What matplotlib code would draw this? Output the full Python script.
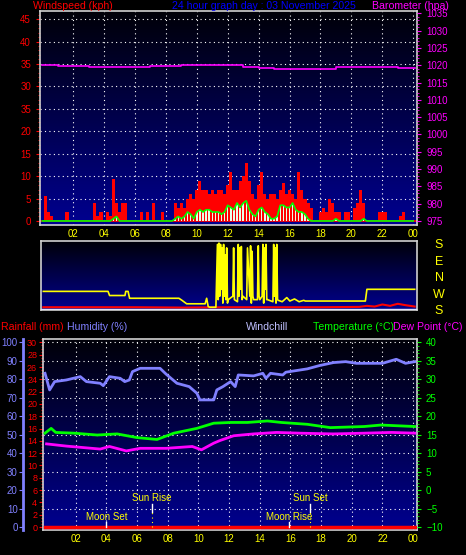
import numpy as np
import matplotlib
matplotlib.use("Agg")
import matplotlib.pyplot as plt
from matplotlib.colors import LinearSegmentedColormap
import matplotlib.transforms as mtrans

plt.rcParams['font.family'] = ['Liberation Sans', 'DejaVu Sans']

# ---------------- data ----------------
wind_hours = [round(0.2 * i, 1) for i in range(121)]
gust_kph = [0, 5.5, 2, 1, 0, 0, 0, 0, 2, 0,
            0, 0, 0, 0, 0, 0, 0, 4, 1, 2,
            0, 2, 1, 9.4, 4, 2, 4, 4, 0, 0,
            0, 0, 2, 0, 2, 0, 4, 0, 0, 2,
            0, 0, 0, 4, 3, 4, 3, 5, 6, 5,
            7, 9, 7, 7, 6, 7, 6, 7, 7, 6,
            8, 11, 7, 7, 9, 10, 13, 9, 6, 5,
            8, 11, 6, 5, 6, 6, 5, 7, 8.5, 6,
            7, 6, 5, 11, 7, 5, 4, 3, 0, 0,
            2, 3, 2, 5, 4, 2, 2, 0, 2, 2,
            0, 3, 4, 7, 4, 0, 0, 0, 0, 2,
            2, 2, 0, 0, 0, 0, 1, 2, 0, 0, 0]
avg_kph = [0, 0, 0, 0, 0, 0, 0, 0, 0, 0,
           0, 0, 0, 0, 0, 0, 0, 0, 0, 0,
           0, 0, 0, 0.5, 1, 0, 0, 0, 0, 0,
           0, 0, 0, 0, 0, 0, 0, 0, 0, 0,
           0, 0, 0, 0.5, 1, 0.5, 1, 2, 1.5, 0.5,
           2, 2.5, 2, 2.5, 2.5, 2, 2, 2, 1.5, 2,
           3.5, 3, 2.5, 4, 3, 4, 4.5, 2.5, 1.5, 1,
           2.5, 3, 2, 1.5, 0.5, 0.5, 1, 3.5, 3.5, 3,
           3, 4, 2.5, 2, 2, 1.5, 0.5, 0, 0, 0,
           0, 0, 0, 0, 0, 0.5, 0, 0, 0, 0,
           0, 0, 0, 0, 0.5, 0, 0, 0, 0, 0,
           0, 0, 0, 0, 0, 0, 0, 0, 0, 0, 0]

baro_hours = [0, 1, 1, 3, 3, 5.5, 5.5, 7, 7, 9, 9, 13, 13, 14, 14, 15, 15, 17, 17, 19, 19, 23, 23, 24.1]
baro_hpa = [1020.0, 1020.0, 1019.8, 1019.8, 1019.4, 1019.4, 1019.6, 1019.6, 1019.8, 1019.8,
            1020.0, 1020.0, 1019.6, 1019.6, 1019.2, 1019.2, 1018.8, 1018.8, 1019.0, 1019.0,
            1019.4, 1019.4, 1019.3, 1019.3]

dir_hours = [0, 4.2, 4.3, 5.3, 5.35, 5.5, 5.6, 8.8, 9.0, 9.3, 10.5, 10.6, 10.7, 10.8, 11.2,
             11.3, 11.35, 11.4, 11.45, 11.5, 11.55, 11.6, 11.65, 11.7, 11.75, 11.8, 11.85, 11.9, 11.95, 12.0,
             12.3, 12.35, 12.4, 12.6, 12.65, 12.7, 12.75, 12.8, 12.85, 12.9, 12.95,
             13.2, 13.25, 13.4, 13.45, 13.5, 13.55, 13.6, 13.65,
             13.9, 13.95, 14.0, 14.05, 14.2, 14.25, 14.3, 14.35, 14.4, 14.45, 14.5, 14.55,
             14.9, 14.95, 15.0, 15.05, 15.1, 15.15, 15.2, 15.25,
             15.5, 15.8, 16.0, 16.3, 16.6, 16.9, 17.0, 20.9, 21.0, 24.1]
dir_frac = [0.27, 0.27, 0.21, 0.21, 0.27, 0.27, 0.17, 0.17, 0.14, 0.09, 0.09, 0.17, 0.05, 0.04, 0.04,
            0.95, 0.15, 0.97, 0.2, 0.95, 0.3, 0.9, 0.1, 0.95, 0.2, 0.8, 0.15, 0.9, 0.1, 0.15,
            0.2, 0.9, 0.15, 0.12, 0.95, 0.2, 0.9, 0.3, 0.92, 0.15, 0.2,
            0.15, 0.9, 0.2, 0.93, 0.1, 0.85, 0.2, 0.15,
            0.15, 0.93, 0.2, 0.15, 0.2, 0.95, 0.1, 0.9, 0.3, 0.95, 0.15, 0.15,
            0.12, 0.95, 0.2, 0.9, 0.1, 0.95, 0.15, 0.14,
            0.12, 0.18, 0.13, 0.16, 0.12, 0.14, 0.13, 0.13, 0.3, 0.3]

rain_noise_h = [0, 3, 6, 9, 12, 15, 18, 20.5, 21, 21.5, 22, 22.5, 23, 23.5, 24.1]
rain_noise_f = [0.04, 0.04, 0.04, 0.035, 0.04, 0.04, 0.04, 0.045, 0.06, 0.05, 0.08, 0.06, 0.09, 0.07, 0.05]

hum_hours = [0, 0.3, 0.63, 1.4, 2.3, 2.7, 3.6, 3.8, 4.2, 4.9, 5.2, 5.5, 5.7, 6.2, 7.5, 7.9, 8.6, 9.4, 9.9,
             10.1, 11.0, 11.2, 11.6, 12.1, 12.4, 12.6, 13.6, 14.2, 14.4, 14.7, 15.5, 15.7, 17.1, 17.9,
             18.8, 19.6, 20.3, 22.0, 22.9, 23.5, 24.1]
humidity = [83.2, 74.2, 78.7, 79.6, 81.4, 78.7, 77.8, 76.5, 81.4, 80.5, 78.7, 79.6, 84.1, 85.9, 85.9,
            82.7, 77.8, 76.0, 72.4, 68.8, 68.8, 74.2, 76.0, 78.7, 76.0, 82.3, 81.8, 83.2, 80.5, 83.2,
            82.3, 83.8, 85.6, 87.4, 89.0, 89.5, 88.6, 88.6, 90.8, 88.6, 89.5]

temp_hours = [0, 0.4, 0.7, 1.9, 3.4, 4.7, 6.0, 7.3, 8.4, 9.9, 11.0, 12.1, 13.2, 14.5, 15.4, 17.1, 18.6,
              20.8, 21.9, 24.1]
temperature = [15.4, 16.7, 15.6, 15.4, 14.9, 15.2, 14.2, 13.7, 15.4, 16.7, 18.1, 18.3, 18.3, 18.7,
               18.3, 17.8, 16.9, 17.2, 17.6, 17.2]

dew_hours = [0.1, 1.4, 3.6, 4.2, 5.3, 6.2, 7.9, 9.6, 10.2, 11.0, 11.4, 12.3, 13.6, 15.1, 16.6, 18.8,
             20.8, 22.6, 24.1]
dewpoint = [12.5, 11.9, 11.1, 11.8, 10.6, 11.3, 11.3, 11.8, 10.9, 12.7, 13.4, 14.7, 15.2, 15.6, 15.4,
            15.2, 15.4, 15.6, 15.4]

rain_hours = [0, 24.1]
rainfall = [0, 0]

hour_ticks = [2, 4, 6, 8, 10, 12, 14, 16, 18, 20, 22, 24]
hour_labels = ["02", "04", "06", "08", "10", "12", "14", "16", "18", "20", "22", "00"]
wind_ticks = [0, 5, 10, 15, 20, 25, 30, 35, 40, 45]
wind_labels = ["0", "5", "10", "15", "20", "35", "30", "35", "40", "45"]

events = [("Moon Set", 4.0, "low"), ("Sun Rise", 6.96, "high"),
          ("Moon Rise", 15.9, "low"), ("Sun Set", 17.3, "high")]

# ---------------- style ----------------
W, H = 466, 555
RED = "#ff0000"; MAG = "#ff00ff"; YEL = "#ffff00"; GRN = "#00ff00"
LAV = "#8080ff"; BLU = "#0000ff"; SPINE = "#d0d0d0"
FS = 7
TFS = 7.6
XLIM = (-0.15, 24.25)
cmap = LinearSegmentedColormap.from_list("bg", ["#000090", "#000008"])

fig = plt.figure(figsize=(W / 100, H / 100), dpi=100, facecolor="black")

def axes_px(l, t, r, b):
    return fig.add_axes([l / W, (H - b) / H, (r - l) / W, (b - t) / H])

def background(ax):
    ax.set_facecolor("black")
    ax.imshow(np.linspace(0, 1, 256).reshape(-1, 1), cmap=cmap, origin="lower",
              extent=[0, 1, 0, 1], transform=ax.transAxes, aspect="auto", zorder=0)
    for s in ax.spines.values():
        s.set_color(SPINE); s.set_linewidth(1.2)

dots = (0, (1, 3))

# ---------------- top panel ----------------
ax1 = axes_px(40, 11, 417, 225)
background(ax1)
ax1.set_xlim(*XLIM)
ax1.set_ylim(-0.9, 46.8)
ax1.set_yticks(wind_ticks)
ax1.set_yticklabels(wind_labels)
ax1.set_yticks(np.arange(0, 47, 1), minor=True)
ax1.tick_params(axis="y", colors=RED, labelsize=FS, length=3, which="both")
ax1.tick_params(axis="y", which="minor", length=1.5)
ax1.set_xticks(hour_ticks)
ax1.set_xticklabels(hour_labels)
ax1.tick_params(axis="x", colors=YEL, labelsize=FS, length=0, pad=3)
for x in hour_ticks:
    ax1.axvline(x, color="white", ls=dots, lw=0.8, zorder=1)
for y in wind_ticks[1:]:
    ax1.axhline(y, color="white", ls=dots, lw=0.8, zorder=1)
ax1.axhline(0, color=RED, lw=1.2, zorder=2)
ax1.bar(wind_hours, gust_kph, width=0.2, color=RED, zorder=3, align="center")
ax1.bar(wind_hours, avg_kph, width=0.09, color="#e8ffe8", zorder=4)
ax1.plot(wind_hours, avg_kph, color=GRN, lw=1.2, zorder=5)

ax1b = ax1.twinx()
ax1b.set_ylim(973.8, 1035.7)
ax1b.set_yticks(np.arange(975, 1036, 5))
ax1b.set_yticks(np.arange(975, 1036, 1), minor=True)
ax1b.tick_params(axis="y", colors=MAG, labelsize=FS, length=3, which="both")
ax1b.tick_params(axis="y", which="minor", length=1.5)
for s in ax1b.spines.values():
    s.set_visible(False)
ax1b.plot(baro_hours, baro_hpa, color=MAG, lw=1.2, zorder=6)

fig.text(33 / W, 1 - 6 / H, "Windspeed (kph)", color=RED, fontsize=TFS, va="center")
fig.text(172 / W, 1 - 6 / H, "24 hour graph day : 03 November 2025", color=BLU, fontsize=TFS, va="center")
fig.text(372 / W, 1 - 6 / H, "Barometer (hpa)", color=MAG, fontsize=TFS, va="center")

# ---------------- middle panel ----------------
ax2 = axes_px(41, 241, 417, 310)
background(ax2)
ax2.set_xlim(*XLIM)
ax2.set_ylim(0, 1)
ax2.set_xticks([]); ax2.set_yticks([])
ax2.plot(rain_noise_h, rain_noise_f, color=RED, lw=1.5, zorder=3)
ax2.axhline(0.015, color="#e0e0ff", lw=1, zorder=3)
ax2.plot(dir_hours, dir_frac, color=YEL, lw=1.2, zorder=4)
for i, lab in enumerate(["S", "E", "N", "W", "S"]):
    fig.text(439 / W, 1 - (245 + 16.5 * i) / H, lab, color=YEL, fontsize=9, ha="center", va="center")

# ---------------- bottom panel ----------------
ax3 = axes_px(42.7, 339.3, 417, 530)
background(ax3)
ax3.set_xlim(*XLIM)
hlo, hhi = -1.6, 101.6
ax3.set_ylim(hlo * 0.3, hhi * 0.3)
ax3.set_yticks(np.arange(0, 31, 2))
ax3.set_yticks(np.arange(0, 31, 0.5), minor=True)
ax3.tick_params(axis="y", colors=RED, labelsize=FS - 0.5, length=3, which="both", pad=1)
ax3.tick_params(axis="y", which="minor", length=1.5)
ax3.set_xticks(hour_ticks)
ax3.set_xticklabels(hour_labels)
ax3.tick_params(axis="x", colors=YEL, labelsize=FS, length=0, pad=3)
for x in hour_ticks:
    ax3.axvline(x, color="white", ls=dots, lw=0.8, zorder=1)
for hv in range(10, 101, 10):
    ax3.axhline(hv * 0.3, color="white", ls=dots, lw=0.8, zorder=1)
ax3.plot(rain_hours, rainfall, color=RED, lw=2.5, zorder=3)

axh = ax3.twinx()
axh.set_ylim(hlo, hhi)
axh.yaxis.set_ticks_position("left")
axh.spines["left"].set_position(("outward", 14))
axh.spines["left"].set_visible(True)
axh.spines["left"].set_color(LAV)
axh.spines["left"].set_linewidth(2)
for k in ["right", "top", "bottom"]:
    axh.spines[k].set_visible(False)
axh.set_yticks(np.arange(0, 101, 10))
axh.tick_params(axis="y", colors=LAV, labelsize=FS, length=3, pad=1)
axh.plot(hum_hours, humidity, color=LAV, lw=2, zorder=4)

axt = ax3.twinx()
axt.set_ylim(-10 + hlo * 0.5, -10 + hhi * 0.5)
axt.set_yticks(np.arange(-10, 41, 5))
axt.set_yticks(np.arange(-10, 41, 1), minor=True)
axt.tick_params(axis="y", colors=GRN, labelsize=FS, length=3, which="both")
axt.tick_params(axis="y", which="minor", length=1.5)
for s in axt.spines.values():
    s.set_visible(False)
axt.plot(temp_hours, temperature, color=GRN, lw=2, zorder=5)
axt.plot(dew_hours, dewpoint, color=MAG, lw=2, zorder=5)

tr = mtrans.blended_transform_factory(ax3.transData, ax3.transAxes)
for name, hr, lvl in events:
    if lvl == "low":
        axt.plot([hr, hr], [0.016, 0.04], color="white", lw=1, transform=tr, zorder=6)
        axt.text(hr, 0.068, name, color=YEL, fontsize=FS, ha="center", va="center", transform=tr, zorder=6)
    else:
        axt.plot([hr, hr], [0.096, 0.136], color="white", lw=1, transform=tr, zorder=6)
        axt.plot([hr, hr], [0.016, 0.096], color=YEL, lw=0.8, ls=dots, transform=tr, zorder=6)
        axt.text(hr, 0.17, name, color=YEL, fontsize=FS, ha="center", va="center", transform=tr, zorder=6)

ty = 1 - 327 / H
fig.text(1 / W, ty, "Rainfall (mm)", color=RED, fontsize=TFS, va="center")
fig.text(67 / W, ty, "Humidity (%)", color=LAV, fontsize=TFS, va="center")
fig.text(246 / W, ty, "Windchill", color="#c0c0ff", fontsize=TFS, va="center")
fig.text(313 / W, ty, "Temperature (°C)", color=GRN, fontsize=TFS, va="center")
fig.text(393 / W, ty, "Dew Point (°C)", color=MAG, fontsize=TFS, va="center")

fig.savefig("out.png", dpi=100, facecolor="black")
